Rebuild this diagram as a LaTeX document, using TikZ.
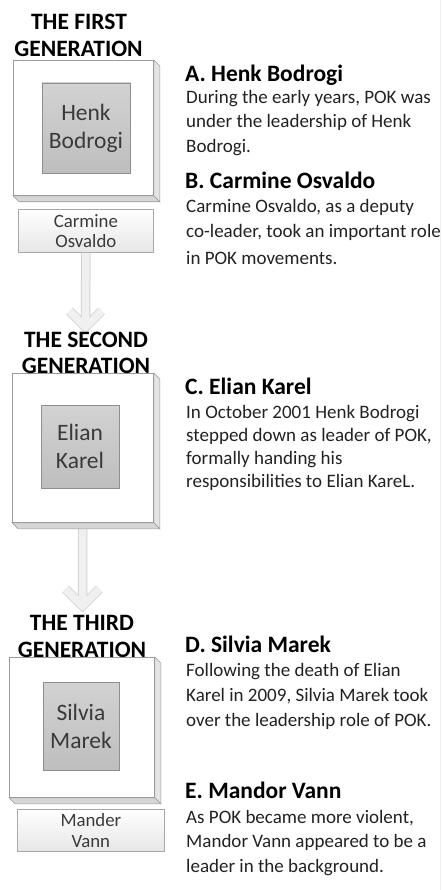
\documentclass[tikz,border=0pt]{standalone}
\usepackage{fontspec}
\setmainfont{Carlito}
\definecolor{boxline}{HTML}{9C9C9C}
\definecolor{sidegray}{HTML}{E4E4E4}
\definecolor{bottomgray}{HTML}{D6D6D6}
\definecolor{innerline}{HTML}{8E8E8E}
\definecolor{innertop}{HTML}{D2D2D2}
\definecolor{innerbot}{HTML}{BEBEBE}
\definecolor{subline}{HTML}{A8A8A8}
\definecolor{subbot}{HTML}{E6E6E6}
\definecolor{arrowedge}{HTML}{D4D4D4}
\definecolor{arrowfill}{HTML}{F0F0F0}
\definecolor{bodytext}{HTML}{222222}
\definecolor{boxtext}{HTML}{3A3A3A}
\begin{document}
\begin{tikzpicture}[x=1pt,y=-1pt,
  front/.style={draw=boxline, fill=white, line width=0.8pt, inner sep=0pt, anchor=north west},
  sideface/.style={draw=boxline, fill=sidegray, line width=0.6pt},
  bottomface/.style={draw=boxline, fill=bottomgray, line width=0.6pt},
  innerbox/.style={draw=innerline, top color=innertop, bottom color=innerbot, line width=0.8pt,
    inner sep=0pt, align=center, text=boxtext, font=\fontsize{23.5}{28}\selectfont},
  subbox/.style={draw=subline, top color=white, bottom color=subbot, line width=0.8pt,
    inner sep=0pt, align=center, text=boxtext, font=\fontsize{18.8}{20.5}\selectfont},
  gentitle/.style={font=\bfseries\fontsize{23.5}{26}\selectfont, anchor=base, inner sep=0pt},
  hdr/.style={font=\bfseries\fontsize{23.5}{26}\selectfont, anchor=base west, inner sep=0pt, text=black},
  body/.style={font=\fontsize{19}{22}\selectfont, anchor=base west, inner sep=0pt, text=bodytext},
  arrowout/.style={draw=arrowedge, line width=9.5pt, line join=miter, line cap=butt},
  arrowin/.style={draw=arrowfill, line width=7.5pt, line join=miter, line cap=butt}
]
\useasboundingbox (0,0) rectangle (442,890);
\fill[white] (0,0) rectangle (442,890);
\draw[gray!12, line width=0.8pt] (440.5,0) -- (440.5,890);

% ---------- boxes (positions) ----------
\node[front, minimum width=140pt, minimum height=135pt] (b1) at (13,60) {};
\node[front, minimum width=141pt, minimum height=149pt] (b2) at (12,373) {};
\node[front, minimum width=145pt, minimum height=140pt] (b3) at (9,657) {};

% ---------- arrows (drawn under boxes) ----------
\node[subbox, minimum width=135pt, minimum height=43pt, anchor=north west] (c1) at (18,209) {Carmine\\Osvaldo};
\coordinate (tip1) at (85.5,327);
\coordinate (tip2) at (82.5,606);
\coordinate (b2foot) at (82.5,527);
\draw[arrowout] (c1.south) -- (tip1) (tip1) ++(-16,-16) -- (tip1) -- ++(16,-16);
\draw[arrowin]  (c1.south) -- (tip1) (tip1) ++(-16,-16) -- (tip1) -- ++(16,-16);
\draw[arrowout] (b2foot) -- (tip2) (tip2) ++(-17,-17) -- (tip2) -- ++(17,-17);
\draw[arrowin]  (b2foot) -- (tip2) (tip2) ++(-17,-17) -- (tip2) -- ++(17,-17);

% ---------- 3D faces ----------
\foreach \b in {b1,b2,b3}{
  \draw[sideface] (\b.north east) -- ++(6,6) -- ([shift={(6,6)}]\b.south east) -- (\b.south east) -- cycle;
  \draw[bottomface] (\b.south west) -- (\b.south east) -- ++(6,6) -- ([shift={(6,6)}]\b.south west) -- cycle;
}
\node[front, minimum width=140pt, minimum height=135pt] (f1) at (13,60) {};
\node[front, minimum width=141pt, minimum height=149pt] (f2) at (12,373) {};
\node[front, minimum width=145pt, minimum height=140pt] (f3) at (9,657) {};

% ---------- inner boxes ----------
\node[innerbox, minimum width=88pt, minimum height=90pt] (n1) at (86,128) {Henk\\Bodrogi};
\node[innerbox, minimum width=78pt, minimum height=83pt] (n2) at (80,446.5) {Elian\\Karel};
\node[innerbox, minimum width=76pt, minimum height=88pt] (n3) at (81,726) {Silvia\\Marek};

\node[subbox, minimum width=147pt, minimum height=42pt, anchor=north west] (m1) at (17,809) {Mander\\Vann};

% ---------- generation titles ----------
\node[gentitle] (t1a) at (79,30) {THE FIRST};
\node[gentitle] (t1b) at (78.5,57) {GENERATION};
\node[gentitle] (t2a) at (86,347) {THE SECOND};
\node[gentitle] (t2b) at (86,373) {GENERATION};
\node[gentitle] (t3a) at (82,630) {THE THIRD};
\node[gentitle] (t3b) at (82,657) {GENERATION};

% ---------- right column ----------
\node[hdr]  (hA) at (185,82) {A. Henk Bodrogi};
\node[body] (a1) at (186,103.5) {During the early years, POK was};
\node[body] (a2) at (186,128) {under the leadership of Henk};
\node[body] (a3) at (186,153) {Bodrogi.};

\node[hdr]  (hB) at (185,189) {B. Carmine Osvaldo};
\node[body] (b1t) at (186,213) {Carmine Osvaldo, as a deputy};
\node[body] (b2t) at (186,238) {co-leader, took an important role};
\node[body] (b3t) at (186,265) {in POK movements.};

\node[hdr]  (hC) at (185,394) {C. Elian Karel};
\node[body] (c1t) at (186,418) {In October 2001 Henk Bodrogi};
\node[body] (c2t) at (186,441.5) {stepped down as leader of POK,};
\node[body] (c3t) at (186,464.5) {formally handing his};
\node[body] (c4t) at (186,487.5) {responsibilities to Elian KareL.};

\node[hdr]  (hD) at (185,652) {D. Silvia Marek};
\node[body] (d1t) at (186,676) {Following the death of Elian};
\node[body] (d2t) at (186,701) {Karel in 2009, Silvia Marek took};
\node[body] (d3t) at (186,726) {over the leadership role of POK.};

\node[hdr]  (hE) at (185,798) {E. Mandor Vann};
\node[body] (e1t) at (186,823) {As POK became more violent,};
\node[body] (e2t) at (186,847) {Mandor Vann appeared to be a};
\node[body] (e3t) at (186,872) {leader in the background.};
\end{tikzpicture}
\end{document}
